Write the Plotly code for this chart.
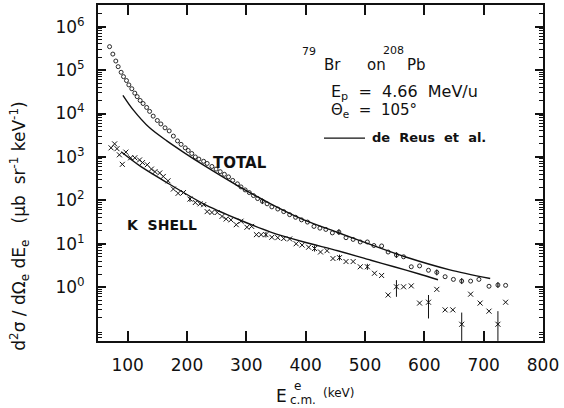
import plotly.graph_objects as go

# ---------------- data ----------------
total_x = [69.5, 75, 80, 84, 89, 93, 98, 102, 107, 112, 116, 121, 126, 132, 137, 143, 150, 156,
           163, 170, 177, 184, 190, 197, 202, 208, 214, 220, 228, 234, 242, 249, 256, 263, 270,
           277, 285, 291, 298, 305, 312, 319, 327, 335, 343, 353, 363, 373, 383, 393, 403, 414,
           424, 434, 445, 456, 468, 480, 492, 504, 515, 528, 539, 553, 565, 578, 592, 607, 621,
           635, 649, 663, 678, 692, 709, 724, 737]
total_y = [347000, 234000, 162000, 120000, 89100, 70800, 57500, 45700, 37200, 29500, 24500,
           20000, 17000, 13800, 11200, 8710, 6920, 5750, 4680, 3980, 3020, 2340, 1950, 1620,
           1410, 1200, 1000, 891, 794, 708, 603, 525, 457, 398, 347, 288, 240, 204, 174, 151,
           129, 110, 95.5, 83.2, 70.8, 63.1, 55.0, 46.8, 40.7, 35.5, 31.6, 25.1, 22.9, 21.4,
           17.8, 18.6, 13.8, 12.6, 11.0, 11.0, 9.12, 8.91, 6.46, 5.50, 5.01, 2.95, 3.09, 2.45,
           2.19, 1.74, 1.51, 1.38, 1.38, 1.51, 1.05, 1.12, 1.10]

total_err_x = [327, 456, 553, 621, 663, 724]
total_err_y = [95.5, 18.6, 5.50, 2.19, 1.38, 1.12]
total_err_lo = [82, 16.0, 4.7, 1.87, 1.18, 0.96]
total_err_hi = [110, 21.6, 6.4, 2.56, 1.62, 1.31]

kshell_x = [72, 78, 82, 86, 91, 97, 105, 112, 120, 125, 133, 140, 146, 154, 160, 168, 177, 185,
            194, 205, 214, 222, 228, 234, 242, 251, 259, 266, 274, 283, 291, 301, 309, 317, 325,
            333, 343, 353, 363, 373, 384, 394, 405, 415, 425, 436, 446, 457, 468, 480, 492, 504,
            516, 528, 539, 553, 565, 578, 592, 607, 621, 635, 648, 663, 678, 694, 709, 724, 737]
kshell_y = [1620, 2000, 1550, 1120, 676, 1290, 955, 955, 851, 741, 661, 525, 457, 427, 355, 282,
            182, 145, 151, 107, 89.1, 83.2, 79.4, 55.0, 52.5, 52.5, 42.7, 37.2, 35.5, 27.5, 33.1,
            24.0, 25.1, 16.2, 16.2, 16.2, 14.1, 13.8, 13.2, 12.9, 10.0, 9.33, 8.32, 7.76, 6.46,
            6.92, 4.57, 4.79, 3.89, 3.89, 2.95, 2.95, 2.09, 1.86, 0.66, 1.02, 1.02, 1.07, 0.43,
            0.45, 0.89, 0.30, 0.30, 0.14, 0.69, 0.43, 0.28, 0.14, 0.45]

kshell_err_x = [205, 333, 415, 457, 504, 553, 607, 663, 724]
kshell_err_y = [107, 16.2, 7.76, 4.79, 2.95, 1.02, 0.45, 0.14, 0.14]
kshell_err_lo = [92, 14.0, 6.6, 4.1, 2.5, 0.60, 0.19, 0.058, 0.058]
kshell_err_hi = [125, 18.8, 9.1, 5.6, 3.45, 1.45, 0.66, 0.26, 0.28]

theory_total_x = [92, 109, 137, 166, 195, 228, 285, 341, 397, 454, 510, 570, 643, 711]
theory_total_y = [26300, 12300, 4680, 2340, 1260, 646, 219, 83.2, 35.5, 18.2, 9.55, 4.90,
                  2.51, 1.58]

theory_k_x = [89, 120, 166, 228, 285, 341, 397, 454, 510, 549, 590, 623]
theory_k_y = [1320, 631, 257, 83.2, 37.2, 18.6, 11.0, 6.92, 4.17, 2.95, 2.04, 1.48]

x_ticks = [100, 200, 300, 400, 500, 600, 700, 800]
y_ticks = [1, 10, 100, 1000, 10000, 100000, 1000000]
y_ticktext = ["10<sup>0</sup>", "10<sup>1</sup>", "10<sup>2</sup>", "10<sup>3</sup>",
              "10<sup>4</sup>", "10<sup>5</sup>", "10<sup>6</sup>"]
y_minor = [m * 10.0 ** e for e in range(-2, 7) for m in range(2, 10)]

FONT = "DejaVu Sans"
BLACK = "#111111"
Y_RANGE = [-1.24, 6.5]

# ---------------- figure ----------------
fig = go.Figure()

fig.add_trace(go.Scatter(x=theory_total_x, y=theory_total_y, mode="lines",
                         line=dict(color=BLACK, width=1.4, shape="spline", smoothing=0.8),
                         hoverinfo="skip"))
fig.add_trace(go.Scatter(x=theory_k_x, y=theory_k_y, mode="lines",
                         line=dict(color=BLACK, width=1.4, shape="spline", smoothing=0.8),
                         hoverinfo="skip"))

fig.add_trace(go.Scatter(x=total_x, y=total_y, mode="markers",
                         marker=dict(symbol="circle-open", size=4, color=BLACK,
                                     line=dict(width=0.9, color=BLACK))))
fig.add_trace(go.Scatter(x=kshell_x, y=kshell_y, mode="markers",
                         marker=dict(symbol="x-thin-open", size=5, color=BLACK,
                                     line=dict(width=1.0, color=BLACK))))

fig.add_trace(go.Scatter(
    x=total_err_x, y=total_err_y, mode="markers", marker=dict(size=1, color=BLACK),
    error_y=dict(type="data", symmetric=False,
                 array=[h - y for h, y in zip(total_err_hi, total_err_y)],
                 arrayminus=[y - l for l, y in zip(total_err_lo, total_err_y)],
                 color=BLACK, thickness=1, width=0)))
fig.add_trace(go.Scatter(
    x=kshell_err_x, y=kshell_err_y, mode="markers", marker=dict(size=1, color=BLACK),
    error_y=dict(type="data", symmetric=False,
                 array=[h - y for h, y in zip(kshell_err_hi, kshell_err_y)],
                 arrayminus=[y - l for l, y in zip(kshell_err_lo, kshell_err_y)],
                 color=BLACK, thickness=1, width=0)))

# invisible trace that carries the right-hand tick axis
fig.add_trace(go.Scatter(x=[None], y=[None], yaxis="y2", mode="markers",
                         marker=dict(size=0), hoverinfo="skip"))

L, R, T, B = 98, 21, 3, 67
W, H = 564, 408
PW, PH = W - L - R, H - T - B


def px(xp):
    return (xp - L) / PW


def py(yp):
    return (H - B - yp) / PH


fig.update_layout(
    width=W, height=H, margin=dict(l=L, r=R, t=T, b=B, pad=0),
    paper_bgcolor="white", plot_bgcolor="white", showlegend=False,
    font=dict(family=FONT, color=BLACK),
    yaxis2=dict(type="log", range=Y_RANGE, overlaying="y", side="right",
                tickmode="array", tickvals=y_ticks, showticklabels=False,
                ticks="inside", ticklen=8, tickwidth=1.5, tickcolor=BLACK,
                minor=dict(tickmode="array", tickvals=y_minor, ticks="inside", ticklen=4,
                           tickwidth=1, tickcolor=BLACK, showgrid=False),
                showline=False, showgrid=False, zeroline=False),
)
fig.update_xaxes(range=[50, 800], tickmode="array", tickvals=x_ticks,
                 ticks="inside", ticklen=10, tickwidth=1.5, tickcolor=BLACK,
                 showline=True, linewidth=2, linecolor=BLACK, mirror="ticks",
                 showgrid=False, zeroline=False,
                 tickfont=dict(size=17, family=FONT, color=BLACK), ticklabelstandoff=8)
fig.update_layout(yaxis=dict(type="log", range=Y_RANGE, tickmode="array", tickvals=y_ticks,
                             ticktext=y_ticktext,
                             ticks="inside", ticklen=8, tickwidth=1.5, tickcolor=BLACK,
                             minor=dict(tickmode="array", tickvals=y_minor, ticks="inside",
                                        ticklen=4, tickwidth=1, tickcolor=BLACK,
                                        showgrid=False),
                             showline=True, linewidth=2, linecolor=BLACK, mirror=True,
                             showgrid=False, zeroline=False,
                             tickfont=dict(size=17, family=FONT, color=BLACK),
                             ticklabelstandoff=8))


def ann(text, xp, yp, size=15, xanchor="center", yanchor="middle", angle=0):
    fig.add_annotation(text=text, x=px(xp), y=py(yp), xref="paper", yref="paper",
                       showarrow=False, xanchor=xanchor, yanchor=yanchor, textangle=angle,
                       font=dict(size=size, family=FONT, color=BLACK))


# curve labels
ann("<b>TOTAL</b>", 240, 162, size=15)
ann("<b>K  SHELL</b>", 162, 224, size=14)

# reaction info
ann("79", 300, 50, size=11, xanchor="left")
ann("Br", 322, 63, size=15, xanchor="left")
ann("on", 365, 63, size=15, xanchor="left")
ann("208", 381, 49, size=11, xanchor="left")
ann("Pb", 405, 63, size=15, xanchor="left")
ann("E<sub>p</sub>  =  4.66  MeV/u", 329, 91, size=16, xanchor="left")
ann("Θ<sub>e</sub>  =  105°", 329, 109, size=15, xanchor="left")
fig.add_shape(type="line", xref="paper", yref="paper", x0=px(324), x1=px(365),
              y0=py(137), y1=py(137), line=dict(color=BLACK, width=1.2))
ann("<b>de  Reus  et  al.</b>", 370, 136, size=13, xanchor="left")

# axis titles
ann("d<sup>2</sup>σ / dΩ<sub>e</sub> dE<sub>e</sub>   (μb  sr<sup>-1</sup> keV<sup>-1</sup>)",
    20, 226, size=17, angle=-90)
ann("E", 281, 396, size=17)
ann("e", 297, 386, size=12)
ann("c.m.", 303, 400, size=12)
ann("(keV)", 338, 393, size=12)

fig.write_html("out.html")
